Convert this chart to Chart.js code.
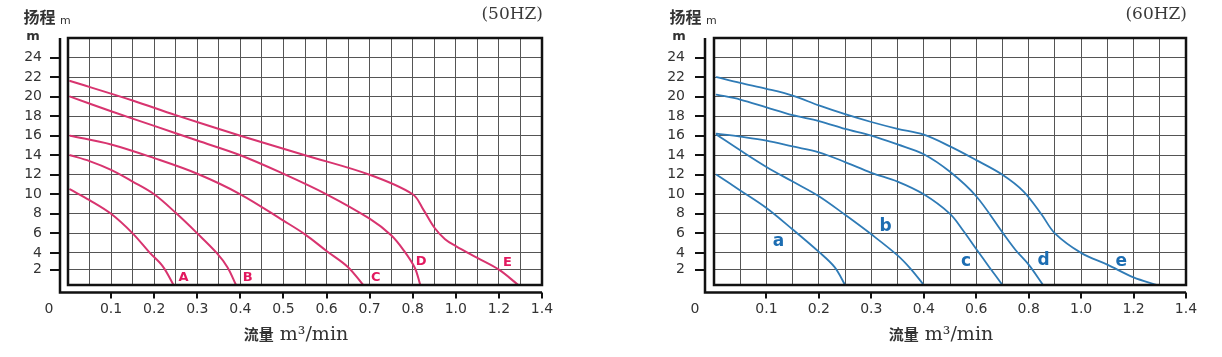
<!DOCTYPE html>
<html>
<head>
<meta charset="utf-8">
<script src="https://cdn.jsdelivr.net/npm/chart.js@4.4.1/dist/chart.umd.min.js"></script>
<style>
html,body{margin:0;padding:0;background:#fff;overflow:hidden;width:1222px;height:357px;}
.box{position:absolute;top:0;height:357px;}
#w50{left:0;width:600px;}
#w60{left:646px;width:576px;}
canvas{display:block;}
</style>
</head>
<body>
<div class="box" id="w50"><canvas id="c50"></canvas></div>
<div class="box" id="w60"><canvas id="c60"></canvas></div>
<script>
// ---------------- DATA (flow m³/min, head m) ----------------
// 50HZ curves
const A_x = [0.005, 0.05, 0.1, 0.15, 0.19, 0.22, 0.245];
const A_y = [10.5, 9.4, 8.0, 6.0, 4.0, 2.4, 0.0];
const B_x = [0.005, 0.05, 0.1, 0.15, 0.2, 0.25, 0.3, 0.345, 0.37, 0.39];
const B_y = [14.0, 13.4, 12.5, 11.3, 10.0, 8.1, 6.0, 4.0, 2.3, 0.0];
const C_x = [0.005, 0.1, 0.2, 0.3, 0.4, 0.5, 0.55, 0.6, 0.65, 0.685];
const C_y = [16.0, 15.1, 13.7, 12.1, 10.0, 7.3, 5.9, 4.2, 2.3, 0.0];
const D_x = [0.005, 0.1, 0.2, 0.3, 0.4, 0.5, 0.6, 0.7, 0.75, 0.78, 0.81, 0.835];
const D_y = [20.0, 18.5, 17.0, 15.5, 14.0, 12.1, 10.0, 7.5, 5.8, 4.2, 2.2, 0.0];
const E_x = [0.005, 0.15, 0.25, 0.4, 0.55, 0.7, 0.8, 0.85, 0.9, 0.95, 1.0, 1.1, 1.2, 1.29];
const E_y = [21.6, 19.6, 18.1, 16.0, 14.0, 12.0, 10.0, 8.4, 6.6, 5.4, 4.7, 3.4, 2.0, 0.0];
const names50 = ['A', 'B', 'C', 'D', 'E'];
const labelX50 = [0.268, 0.417, 0.714, 0.839, 1.24];
const labelY50 = [1.0, 1.0, 1.0, 3.0, 2.9];

// 60HZ curves
const a_x = [0.005, 0.05, 0.1, 0.15, 0.2, 0.23, 0.25];
const a_y = [12.0, 10.4, 8.6, 6.4, 4.1, 2.3, 0.0];
const b_x = [0.005, 0.05, 0.1, 0.15, 0.2, 0.25, 0.3, 0.35, 0.375, 0.4];
const b_y = [16.1, 14.5, 12.8, 11.3, 9.8, 7.9, 5.9, 3.7, 2.1, 0.0];
const c_x = [0.005, 0.05, 0.1, 0.15, 0.2, 0.25, 0.3, 0.35, 0.4, 0.5, 0.55, 0.6, 0.65, 0.7];
const c_y = [16.2, 15.9, 15.5, 14.9, 14.3, 13.3, 12.2, 11.3, 10.0, 8.0, 6.3, 4.4, 2.3, 0.0];
const d_x = [0.005, 0.05, 0.1, 0.15, 0.2, 0.25, 0.3, 0.35, 0.4, 0.5, 0.6, 0.7, 0.75, 0.8, 0.855];
const d_y = [20.2, 19.7, 18.9, 18.1, 17.5, 16.7, 16.0, 15.1, 14.1, 12.3, 9.8, 6.1, 4.3, 2.6, 0.0];
const e_x = [0.005, 0.05, 0.1, 0.15, 0.2, 0.25, 0.3, 0.35, 0.4, 0.5, 0.6, 0.7, 0.78, 0.85, 0.9, 1.0, 1.1, 1.2, 1.29];
const e_y = [22.0, 21.4, 20.8, 20.1, 19.1, 18.2, 17.4, 16.7, 16.1, 14.9, 13.5, 12.0, 10.3, 7.9, 6.0, 4.0, 2.6, 1.0, 0.0];
const names60 = ['a', 'b', 'c', 'd', 'e'];
const labelX60 = [0.123, 0.327, 0.561, 0.857, 1.153];
const labelY60 = [5.15, 6.7, 3.0, 3.1, 3.0];

// ticks / grid
const yGrid = [0, 2, 4, 6, 8, 10, 12, 14, 16, 18, 20, 22, 24, 26];
const yLabelValues = [2, 4, 6, 8, 10, 12, 14, 16, 18, 20, 22, 24];
const yTickLabels = ['2', '4', '6', '8', '10', '12', '14', '16', '18', '20', '22', '24'];

const xGrid50 = [0, 0.05, 0.1, 0.15, 0.2, 0.25, 0.3, 0.35, 0.4, 0.45, 0.5, 0.55, 0.6, 0.65, 0.7, 0.75, 0.8, 0.9, 1.0, 1.1, 1.2, 1.3, 1.4];
const xLabelValues50 = [0.1, 0.2, 0.3, 0.4, 0.5, 0.6, 0.7, 0.8, 1.0, 1.2, 1.4];
const xTickLabels50 = ['0.1', '0.2', '0.3', '0.4', '0.5', '0.6', '0.7', '0.8', '1.0', '1.2', '1.4'];

const xGrid60 = [0, 0.05, 0.1, 0.15, 0.2, 0.25, 0.3, 0.35, 0.4, 0.5, 0.6, 0.7, 0.8, 0.9, 1.0, 1.1, 1.2, 1.3, 1.4];
const xLabelValues60 = [0.1, 0.2, 0.3, 0.4, 0.6, 0.8, 1.0, 1.2, 1.4];
const xTickLabels60 = ['0.1', '0.2', '0.3', '0.4', '0.6', '0.8', '1.0', '1.2', '1.4'];

// ---------------- piecewise-linear scale (paper grid) ----------------
function makePiecewiseScale(id, bVals, bFracs, tickVals) {
  class S extends Chart.LinearScale {
    buildTicks() { return tickVals.map(v => ({ value: v })); }
    _frac(v) {
      let i = 1;
      while (i < bVals.length - 1 && v > bVals[i]) i++;
      const v0 = bVals[i - 1], v1 = bVals[i], f0 = bFracs[i - 1], f1 = bFracs[i];
      return f0 + (v - v0) * (f1 - f0) / (v1 - v0);
    }
    getPixelForValue(v) {
      if (v === null || v === undefined || isNaN(v)) return NaN;
      return this.getPixelForDecimal(this._frac(v));
    }
    getValueForPixel(p) {
      const d = this.getDecimalForPixel(p);
      let i = 1;
      while (i < bFracs.length - 1 && d > bFracs[i]) i++;
      const v0 = bVals[i - 1], v1 = bVals[i], f0 = bFracs[i - 1], f1 = bFracs[i];
      return v0 + (d - f0) * (v1 - v0) / (f1 - f0);
    }
  }
  S.id = id;
  S.defaults = Chart.LinearScale.defaults;
  Chart.register(S);
  return id;
}

// each grid column = one paper square; y rows below 4 m are narrower on the sheet
makePiecewiseScale('pwX50', [0, 0.8, 1.4], [0, 16 / 22, 1], xGrid50);
makePiecewiseScale('pwX60', [0, 0.4, 1.4], [0, 8 / 18, 1], xGrid60);
makePiecewiseScale('pwY', [0, 2, 4, 26], [0, 0.062, 0.130, 1], yGrid);

function lookupLabel(v, vals, labels) {
  for (let i = 0; i < vals.length; i++) if (Math.abs(vals[i] - v) < 1e-6) return labels[i];
  return '';
}
function pts(xs, ys) { return xs.map((x, i) => ({ x: x, y: ys[i] })); }

const TICK_FONT = { family: '"DejaVu Sans", sans-serif', size: 14, lineHeight: 1.2 };

function decoPlugin(o) {
  return {
    id: 'deco',
    afterDraw(chart) {
      const ctx = chart.ctx, a = chart.chartArea, xs = chart.scales.x, ys = chart.scales.y;
      ctx.save();
      // inner frame
      ctx.strokeStyle = '#111';
      ctx.lineWidth = 2.5;
      ctx.strokeRect(a.left, a.top, a.right - a.left, a.bottom - a.top);
      // outer L axis
      const ox = a.left - o.gapX, oy = a.bottom + 7.5;
      ctx.beginPath();
      ctx.moveTo(ox, a.top);
      ctx.lineTo(ox, oy);
      ctx.lineTo(a.right, oy);
      ctx.stroke();
      // tick marks
      ctx.lineWidth = 2;
      ctx.beginPath();
      yLabelValues.forEach(v => { const p = Math.round(ys.getPixelForValue(v)); ctx.moveTo(ox - 10, p); ctx.lineTo(ox, p); });
      o.xLabelValues.forEach(v => { const p = Math.round(xs.getPixelForValue(v)); ctx.moveTo(p, oy); ctx.lineTo(p, oy + 6); });
      ctx.stroke();

      ctx.fillStyle = '#333';
      ctx.textBaseline = 'alphabetic';
      // 扬程 m
      ctx.textAlign = 'left';
      ctx.font = 'bold 16px "Noto Sans CJK SC"';
      ctx.fillText('扬程', a.left - 44.5, 23);
      ctx.font = '11px "DejaVu Sans"';
      ctx.fillText('m', a.left - 8, 24);
      // y unit
      ctx.textAlign = 'center';
      ctx.font = 'bold 13px "DejaVu Sans"';
      ctx.fillText('m', a.left - 35, 40);
      // frequency
      ctx.textAlign = 'right';
      ctx.textBaseline = 'middle';
      ctx.fillStyle = '#3a3a3a';
      ctx.font = '17px "DejaVu Serif"';
      ctx.fillText(o.freq, a.right + 1, 15);
      // origin 0
      ctx.textAlign = 'center';
      ctx.fillStyle = '#333';
      ctx.font = '14px "DejaVu Sans"';
      ctx.fillText('0', a.left - 19, 309);
      // x title
      const t1 = '流量', t2 = ' m³/min';
      ctx.font = 'bold 15px "Noto Sans CJK SC"';
      const w1 = ctx.measureText(t1).width;
      ctx.font = '19px "DejaVu Serif"';
      const w2 = ctx.measureText(t2).width;
      const cx = (a.left + a.right) / 2 - 9;
      let x0 = cx - (w1 + w2) / 2;
      ctx.textAlign = 'left';
      ctx.textBaseline = 'alphabetic';
      ctx.font = 'bold 15px "Noto Sans CJK SC"';
      ctx.fillText(t1, x0, 340);
      ctx.font = '19px "DejaVu Serif"';
      ctx.fillText(t2, x0 + w1, 340);
      // curve labels
      ctx.textAlign = 'center';
      ctx.textBaseline = 'middle';
      ctx.fillStyle = o.labelColor;
      ctx.font = o.labelFont;
      o.names.forEach((n, i) => {
        ctx.fillText(n, xs.getPixelForValue(o.lx[i]), ys.getPixelForValue(o.ly[i]));
      });
      ctx.restore();
    }
  };
}

function build(canvasId, o) {
  const datasets = o.series.map(s => ({
    data: pts(s[0], s[1]),
    borderColor: o.color,
    borderWidth: o.lineWidth,
    pointRadius: 0,
    fill: false,
    tension: 0.35,
    borderCapStyle: 'round',
    borderJoinStyle: 'round'
  }));
  return new Chart(document.getElementById(canvasId), {
    type: 'line',
    data: { datasets: datasets },
    options: {
      responsive: true,
      maintainAspectRatio: false,
      animation: false,
      devicePixelRatio: 1,
      events: [],
      layout: { padding: { left: 0, right: o.padRight, top: 38, bottom: 32 } },
      plugins: { legend: { display: false }, tooltip: { enabled: false }, title: { display: false } },
      scales: {
        x: {
          type: o.xType, min: 0, max: 1.4,
          afterFit: s => { s.height = 40; },
          border: { display: false },
          grid: { color: '#555', lineWidth: 1, drawTicks: false },
          ticks: {
            autoSkip: false, maxRotation: 0, minRotation: 0, padding: 16,
            color: '#333', font: TICK_FONT,
            callback: v => lookupLabel(v, o.xLabelValues, o.xTickLabels)
          }
        },
        y: {
          type: 'pwY', min: 0, max: 26,
          afterFit: s => { s.width = 68; },
          border: { display: false },
          grid: { color: '#555', lineWidth: 1, drawTicks: false },
          ticks: {
            autoSkip: false, padding: o.yPad,
            color: '#333', font: TICK_FONT,
            callback: v => lookupLabel(v, yLabelValues, yTickLabels)
          }
        }
      }
    },
    plugins: [decoPlugin(o)]
  });
}

build('c50', {
  series: [[A_x, A_y], [B_x, B_y], [C_x, C_y], [D_x, D_y], [E_x, E_y]],
  color: '#d8346f', lineWidth: 2,
  xType: 'pwX50', padRight: 58, yPad: 26, gapX: 8,
  xLabelValues: xLabelValues50, xTickLabels: xTickLabels50,
  freq: '(50HZ)',
  names: names50, lx: labelX50, ly: labelY50,
  labelColor: '#e2195f', labelFont: 'bold 13px "DejaVu Sans"'
});

build('c60', {
  series: [[a_x, a_y], [b_x, b_y], [c_x, c_y], [d_x, d_y], [e_x, e_y]],
  color: '#2f7bb6', lineWidth: 1.8,
  xType: 'pwX60', padRight: 36, yPad: 29, gapX: 9,
  xLabelValues: xLabelValues60, xTickLabels: xTickLabels60,
  freq: '(60HZ)',
  names: names60, lx: labelX60, ly: labelY60,
  labelColor: '#1c6db2', labelFont: 'bold 17px "DejaVu Sans"'
});
</script>
</body>
</html>
